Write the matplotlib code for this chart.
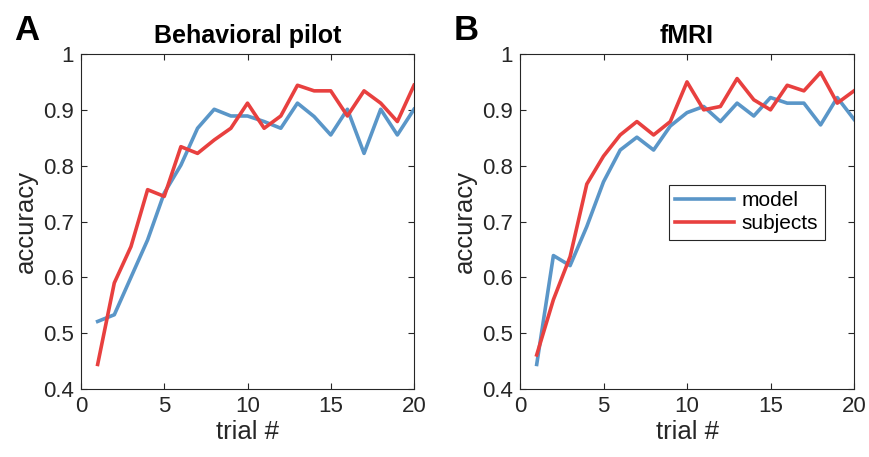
import matplotlib.pyplot as plt
import numpy as np

plt.rcParams['font.family'] = ['Liberation Sans', 'DejaVu Sans']

trials = np.arange(1, 21)

# Behavioral pilot
pilot_model = [0.521, 0.533, 0.600, 0.667, 0.751, 0.801, 0.867, 0.901, 0.889, 0.889,
               0.879, 0.867, 0.912, 0.888, 0.855, 0.901, 0.822, 0.901, 0.855, 0.901]
pilot_subjects = [0.444, 0.590, 0.655, 0.757, 0.745, 0.834, 0.822, 0.846, 0.867, 0.912,
                  0.867, 0.889, 0.944, 0.934, 0.934, 0.889, 0.934, 0.912, 0.879, 0.944]

# fMRI
fmri_model = [0.444, 0.639, 0.621, 0.691, 0.771, 0.828, 0.851, 0.828, 0.871, 0.895,
              0.906, 0.879, 0.912, 0.889, 0.922, 0.912, 0.912, 0.873, 0.922, 0.883]
fmri_subjects = [0.461, 0.560, 0.637, 0.767, 0.817, 0.855, 0.879, 0.855, 0.879, 0.950,
                 0.900, 0.906, 0.956, 0.918, 0.900, 0.944, 0.934, 0.967, 0.912, 0.934]

titles = ['Behavioral pilot', 'fMRI']
letters = ['A', 'B']
blue = '#5a96c8'
red = '#e8403f'

fig = plt.figure(figsize=(8.7, 4.57), dpi=100)
ax1 = fig.add_axes([81/870, 1-389/457, 333/870, 335/457])
ax2 = fig.add_axes([520/870, 1-389/457, 334/870, 335/457])

for ax, m, s, t in zip([ax1, ax2], [pilot_model, fmri_model],
                       [pilot_subjects, fmri_subjects], titles):
    ax.plot(trials, m, color=blue, lw=2.6, label='model')
    ax.plot(trials, s, color=red, lw=2.6, label='subjects')
    ax.set_xlim(0, 20)
    ax.set_ylim(0.4, 1)
    ax.set_xticks([0, 5, 10, 15, 20])
    ax.set_yticks([0.4, 0.5, 0.6, 0.7, 0.8, 0.9, 1])
    ax.set_yticklabels(['0.4', '0.5', '0.6', '0.7', '0.8', '0.9', '1'])
    ax.tick_params(direction='in', length=4, width=0.8, labelsize=16,
                   colors='#262626', top=True, right=True, pad=5)
    for sp in ax.spines.values():
        sp.set_color('#262626')
        sp.set_linewidth(0.8)
    ax.set_xlabel('trial #', fontsize=18.5, color='#262626', labelpad=2)
    ax.set_ylabel('accuracy', fontsize=18.5, color='#262626', labelpad=4)
    ax.set_title(t, fontsize=18, fontweight='bold', pad=8)

fig.text(14/870, 1-40/457, letters[0], fontsize=25, fontweight='bold')
fig.text(454/870, 1-40/457, letters[1], fontsize=25, fontweight='bold')

leg = ax2.legend(loc='upper left', bbox_to_anchor=(149/334, 1-(185-54)/335),
                 fontsize=15, frameon=True, fancybox=False, framealpha=1,
                 handlelength=2.8, borderpad=0.3, labelspacing=0.2,
                 handletextpad=0.4, borderaxespad=0)
leg.get_frame().set_edgecolor('#262626')
leg.get_frame().set_linewidth(0.8)

plt.savefig('out.png', dpi=100)
